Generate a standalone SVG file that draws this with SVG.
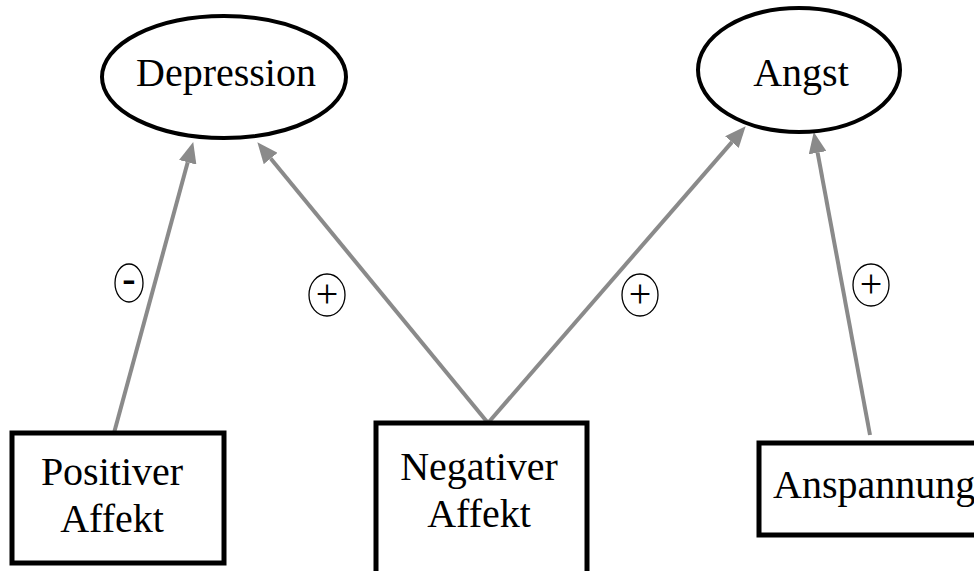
<svg xmlns="http://www.w3.org/2000/svg" width="974" height="571" viewBox="0 0 974 571">
<style>
.node{fill:#fff;stroke:#000;stroke-width:4}
.box{fill:#fff;stroke:#000;stroke-width:5}
.lbl{font-family:"Liberation Serif","Times New Roman",serif;font-size:40px;fill:#000;text-anchor:middle}
.edge{stroke:#8a8a8a;stroke-width:4;fill:none}
.sign{fill:#fff;stroke:#000;stroke-width:1.3}
.signt{font-family:"Liberation Serif","Times New Roman",serif;font-size:40px;fill:#000;text-anchor:middle}
</style>
<defs>
<marker id="ah" markerUnits="userSpaceOnUse" markerWidth="21" markerHeight="18" refX="0" refY="9" orient="auto">
<path d="M0,0 L21,9 L0,18 z" fill="#8a8a8a"/>
</marker>
</defs>
<rect width="974" height="571" fill="#fff"/>
<g id="connectors">
<line class="edge" x1="114" y1="433" x2="187.7" y2="162.3" marker-end="url(#ah)"/>
<line class="edge" x1="488" y1="423" x2="270.7" y2="158.5" marker-end="url(#ah)"/>
<line class="edge" x1="488" y1="423" x2="731.9" y2="142.1" marker-end="url(#ah)"/>
<line class="edge" x1="870" y1="435" x2="817.6" y2="152.7" marker-end="url(#ah)"/>
<g id="sign-neg">
<ellipse class="sign" cx="129" cy="283" rx="14" ry="19"/>
<text class="signt" x="129" y="292" font-size="38" font-weight="bold">-</text>
</g>
<g id="sign-pos1">
<ellipse class="sign" cx="327" cy="295" rx="18" ry="21"/>
<text class="signt" x="327" y="307">+</text>
</g>
<g id="sign-pos2">
<ellipse class="sign" cx="640" cy="295" rx="18" ry="21"/>
<text class="signt" x="640" y="307">+</text>
</g>
<g id="sign-pos3">
<ellipse class="sign" cx="871" cy="285" rx="18" ry="21"/>
<text class="signt" x="871" y="297">+</text>
</g>
</g>
<g id="depression">
<ellipse class="node" cx="224" cy="77" rx="122" ry="61"/>
<text class="lbl" x="226" y="86">Depression</text>
</g>
<g id="angst">
<ellipse class="node" cx="799" cy="70" rx="101" ry="62"/>
<text class="lbl" x="801" y="86">Angst</text>
</g>
<g id="positiver-affekt">
<rect class="box" x="12" y="433" width="212" height="130"/>
<text class="lbl" x="112" y="485">Positiver</text>
<text class="lbl" x="112" y="532">Affekt</text>
</g>
<g id="negativer-affekt">
<rect class="box" x="376" y="423" width="211" height="170"/>
<text class="lbl" x="479" y="480">Negativer</text>
<text class="lbl" x="479" y="527">Affekt</text>
</g>
<g id="anspannung">
<rect class="box" x="759" y="443" width="240" height="92"/>
<text class="lbl" x="773" y="498" style="text-anchor:start">Anspannung</text>
</g>
</svg>
